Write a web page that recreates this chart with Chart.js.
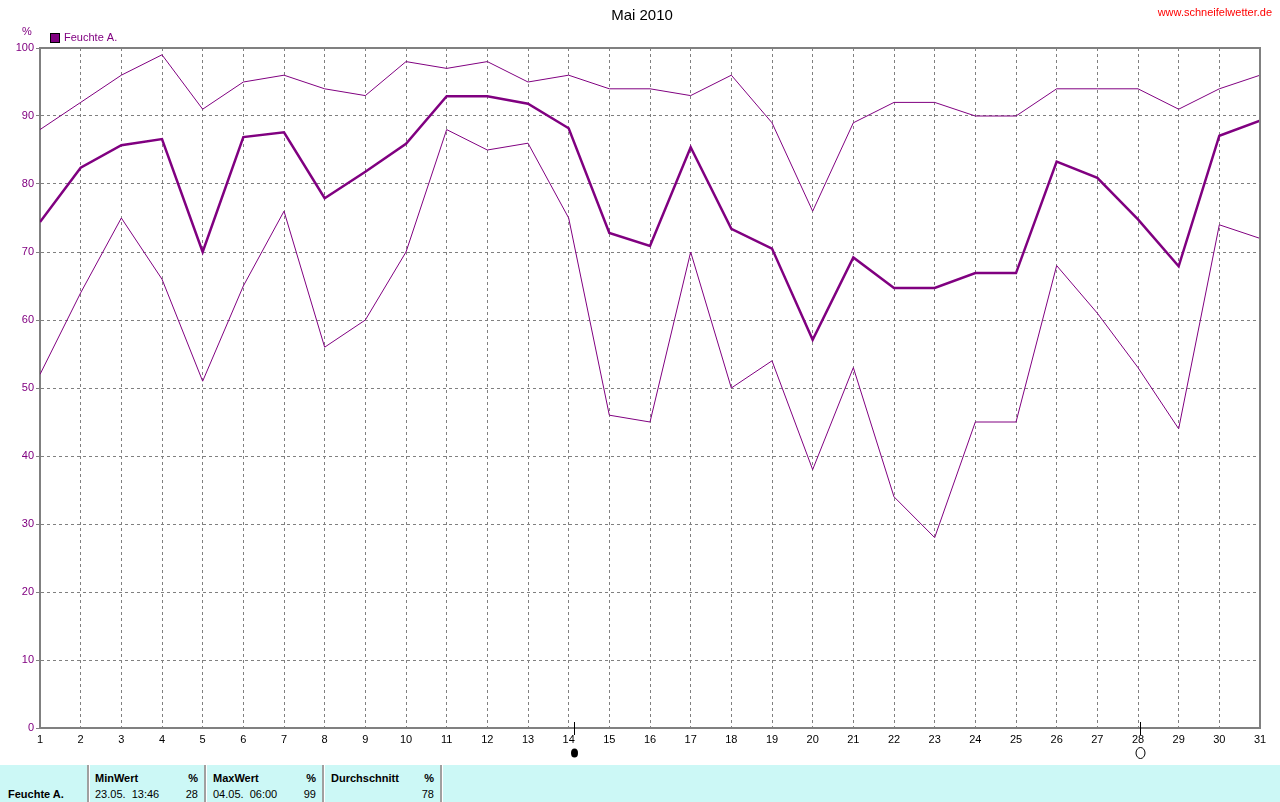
<!DOCTYPE html>
<html>
<head>
<meta charset="utf-8">
<script src="https://cdn.jsdelivr.net/npm/chart.js@4.4.1/dist/chart.umd.min.js"></script>
<style>
body{margin:0;background:#fff;width:1280px;height:802px;overflow:hidden;font-family:"Liberation Sans",Arial,sans-serif}
#wrap{position:relative;width:1280px;height:765px}
#tbl{position:absolute;left:0;top:765px;width:1280px;height:37px;background:#ccf8f6;font-size:11px;color:#000}
#tbl div{position:absolute;white-space:pre}
#tbl .b{font-weight:bold}
#tbl .sep{width:2px;height:37px;top:0;background:#a0a0a0;border-right:1px solid #fff}
#tbl .r{text-align:right;width:40px}
</style>
</head>
<body>
<div id="wrap"><canvas id="c" width="1280" height="765"></canvas></div>
<div id="tbl">
  <div class="sep" style="left:87px"></div>
  <div class="sep" style="left:204px"></div>
  <div class="sep" style="left:322px"></div>
  <div class="sep" style="left:440px"></div>
  <div class="b" style="left:8px;top:23px">Feuchte A.</div>
  <div class="b" style="left:95px;top:7px">MinWert</div>
  <div class="b r" style="left:158px;top:7px">%</div>
  <div style="left:95px;top:23px">23.05.  13:46</div>
  <div class="r" style="left:158px;top:23px">28</div>
  <div class="b" style="left:213px;top:7px">MaxWert</div>
  <div class="b r" style="left:276px;top:7px">%</div>
  <div style="left:213px;top:23px">04.05.  06:00</div>
  <div class="r" style="left:276px;top:23px">99</div>
  <div class="b" style="left:331px;top:7px">Durchschnitt</div>
  <div class="b r" style="left:394px;top:7px">%</div>
  <div class="r" style="left:394px;top:23px">78</div>
</div>
<script>
// Tage im Mai 2010
const days=[1,2,3,4,5,6,7,8,9,10,11,12,13,14,15,16,17,18,19,20,21,22,23,24,25,26,27,28,29,30,31];
// Feuchte A. (%) - Tagesmaximum, Mittel, Tagesminimum
const humMax=[88,92,96,99,91,95,96,94,93,98,97,98,95,96,94,94,93,96,89,76,89,92,92,90,90,94,94,94,91,94,96];
const humAvg=[74.4,82.4,85.7,86.6,70,86.9,87.6,77.9,81.8,85.9,92.9,92.9,91.8,88.2,72.8,70.9,85.4,73.4,70.5,57.1,69.2,64.7,64.7,66.9,66.9,83.3,80.9,74.8,67.9,87.1,89.3];
const humMin=[52,64,75,66,51,65,76,56,60,70,88,85,86,75,46,45,70,50,54,38,53,34,28,45,45,68,61,53,44,74,72];
const yTicks=[0,10,20,30,40,50,60,70,80,90,100];
// Mondphasen: Neumond 14., Vollmond 28.
const moonDays=[14.13,28.05];
const moonFull=[false,true];

const purple='#800080';
const grey='#808080';
const toPts=arr=>arr.map((v,i)=>({x:days[i],y:v}));

const extras={
  id:'extras',
  afterDraw(chart){
    const ctx=chart.ctx, a=chart.chartArea, xs=chart.scales.x;
    ctx.save();
    // Rahmen oben und rechts
    ctx.strokeStyle=grey;ctx.lineWidth=2;
    ctx.beginPath();
    ctx.moveTo(a.left,a.top);ctx.lineTo(a.right,a.top);ctx.lineTo(a.right,a.bottom);
    ctx.stroke();
    // Titel
    ctx.fillStyle='#000';ctx.font='15px "Liberation Sans", Arial, sans-serif';
    ctx.textAlign='center';ctx.textBaseline='middle';
    ctx.fillText('Mai 2010',642,16);
    // Webseite
    ctx.fillStyle='#ff0000';ctx.font='11px "Liberation Sans", Arial, sans-serif';
    ctx.textAlign='right';
    ctx.fillText('www.schneifelwetter.de',1272,13);
    // Einheit + Legende
    ctx.fillStyle=purple;ctx.textAlign='center';
    ctx.fillText('%',27,32);
    ctx.fillRect(50,33,10,10);
    ctx.strokeStyle='#000';ctx.lineWidth=1;
    ctx.strokeRect(50.5,33.5,9,9);
    ctx.fillStyle=purple;ctx.textAlign='left';
    ctx.fillText('Feuchte A.',64,38);
    // Mondphasen
    moonDays.forEach((d,i)=>{
      const px=Math.round(xs.getPixelForValue(d))+0.5;
      ctx.strokeStyle='#000';ctx.lineWidth=1;
      ctx.beginPath();ctx.moveTo(px,722);ctx.lineTo(px,735);ctx.stroke();
      ctx.beginPath();
      ctx.ellipse(px,753,moonFull[i]?4.5:3.5,moonFull[i]?5.5:4.5,0,0,Math.PI*2);
      if(moonFull[i]){ctx.fillStyle='#fff';ctx.fill();ctx.stroke();}
      else{ctx.fillStyle='#000';ctx.fill();}
    });
    ctx.restore();
  }
};

new Chart(document.getElementById('c'),{
  type:'line',
  data:{
    datasets:[
      {label:'Max',data:toPts(humMax),borderColor:purple,borderWidth:1,pointRadius:0,tension:0},
      {label:'Min',data:toPts(humMin),borderColor:purple,borderWidth:1,pointRadius:0,tension:0},
      {label:'Feuchte A.',data:toPts(humAvg),borderColor:purple,borderWidth:2.5,pointRadius:0,tension:0}
    ]
  },
  options:{
    responsive:false,
    animation:false,
    events:[],
    layout:{padding:{top:48,right:20,left:0,bottom:0}},
    plugins:{legend:{display:false},title:{display:false},tooltip:{enabled:false}},
    scales:{
      x:{
        type:'linear',min:1,max:31,
        afterFit:s=>{s.height=37;},
        ticks:{stepSize:1,autoSkip:false,color:'#000',padding:5,maxRotation:0,
          font:{family:'"Liberation Sans", Arial, sans-serif',size:11},
          callback:v=>days.includes(v)?String(v):''},
        grid:{color:grey,lineWidth:1,drawTicks:false},
        border:{display:true,color:grey,width:2,dash:[3,3]}
      },
      y:{
        min:0,max:100,
        afterFit:s=>{s.width=40;},
        afterBuildTicks:s=>{s.ticks=yTicks.map(v=>({value:v}));},
        ticks:{color:purple,padding:2,
          font:{family:'"Liberation Sans", Arial, sans-serif',size:11}},
        grid:{color:grey,lineWidth:1,tickLength:4,tickColor:grey},
        border:{display:true,color:grey,width:2,dash:[3,3]}
      }
    }
  },
  plugins:[extras]
});
</script>
</body>
</html>
